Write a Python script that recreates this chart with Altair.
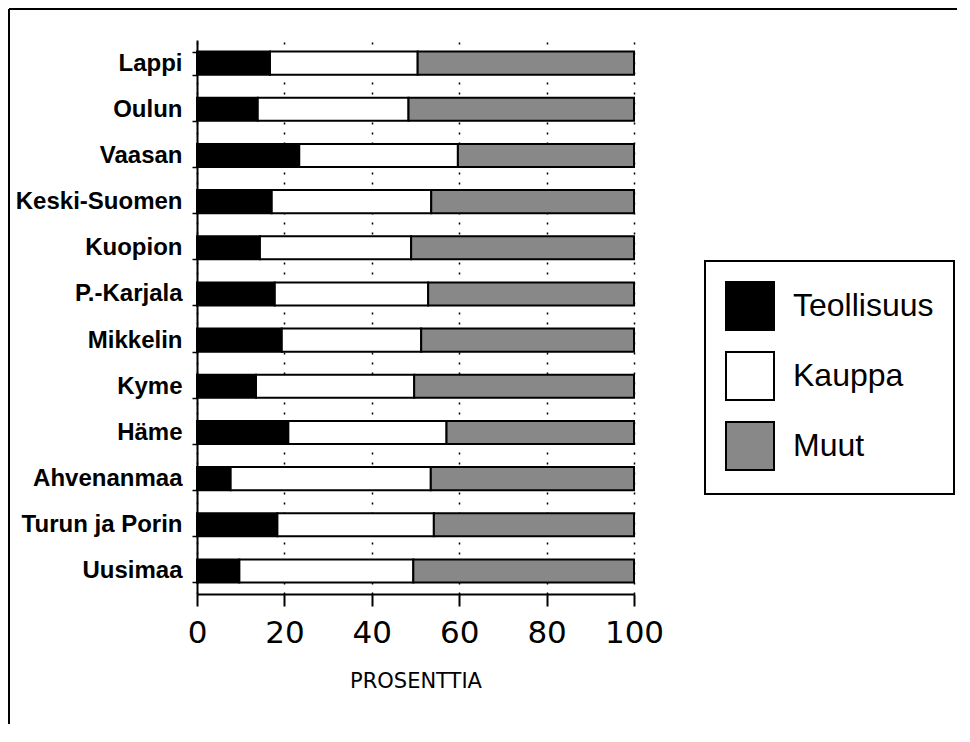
import altair as alt
import pandas as pd

categories = ["Lappi", "Oulun", "Vaasan", "Keski-Suomen", "Kuopion", "P.-Karjala",
              "Mikkelin", "Kyme", "Häme", "Ahvenanmaa", "Turun ja Porin", "Uusimaa"]
teollisuus = [16.7, 13.9, 23.4, 17.1, 14.4, 17.8, 19.4, 13.5, 20.9, 7.7, 18.4, 9.7]
kauppa = [33.8, 34.5, 36.3, 36.5, 34.6, 35.1, 31.9, 36.2, 36.2, 45.8, 35.8, 39.8]
muut = [49.5, 51.6, 40.3, 46.4, 51.0, 47.1, 48.7, 50.3, 42.9, 46.5, 45.8, 50.5]
sectors = ["Teollisuus", "Kauppa", "Muut"]
sector_colors = ["#000000", "#ffffff", "#888888"]
x_ticks = [0, 20, 40, 60, 80, 100]

rows = []
for i, c in enumerate(categories):
    for j, (s, vals) in enumerate(zip(sectors, [teollisuus, kauppa, muut])):
        rows.append({"alue": c, "sektori": s, "osuus": vals[i], "jarjestys": j})
df = pd.DataFrame(rows)

bars = alt.Chart(df).mark_bar(stroke="black", strokeWidth=2).encode(
    x=alt.X("osuus:Q", stack="zero",
            scale=alt.Scale(domain=[0, 100], nice=False),
            axis=alt.Axis(values=x_ticks, title="PROSENTTIA",
                          domainColor="black", domainWidth=2,
                          tickColor="black", tickWidth=2, tickSize=12,
                          labelFont="DejaVu Sans", labelFontSize=31, labelColor="black",
                          labelPadding=12, labelFlush=False,
                          grid=True, gridColor="black", gridDash=[2, 8], gridWidth=1.5,
                          gridOpacity=1,
                          titleFont="DejaVu Sans", titleFontSize=21, titleFontWeight="normal",
                          titleColor="black", titlePadding=22)),
    y=alt.Y("alue:N", sort=categories,
            scale=alt.Scale(paddingInner=0.5, paddingOuter=0.25),
            axis=alt.Axis(title=None, domainColor="black", domainWidth=2,
                          ticks=True, tickBand="extent", tickSize=5, tickWidth=1.5,
                          tickColor="black",
                          labelFont="Liberation Sans", labelFontWeight="bold",
                          labelFontSize=24, labelPadding=10, labelColor="black",
                          grid=False)),
    color=alt.Color("sektori:N",
                    scale=alt.Scale(domain=sectors, range=sector_colors),
                    legend=alt.Legend(orient="none", legendX=508, legendY=221,
                                      title=None, symbolType="square", symbolSize=2304,
                                      symbolStrokeColor="black", symbolStrokeWidth=2,
                                      symbolOpacity=1,
                                      labelFont="Liberation Sans", labelFontSize=32,
                                      labelColor="black", labelOffset=18,
                                      rowPadding=14, padding=20,
                                      strokeColor="black", fillColor="white")),
    order=alt.Order("jarjestys:Q"),
)

frame_df = pd.DataFrame({"k": [0]})
top_line = alt.Chart(frame_df).mark_rule(color="black", strokeWidth=2).encode(
    x=alt.value(-188), x2=alt.value(760), y=alt.value(-31))
left_line = alt.Chart(frame_df).mark_rule(color="black", strokeWidth=2).encode(
    x=alt.value(-188), y=alt.value(-31), y2=alt.value(684))

chart = alt.layer(bars, top_line, left_line).properties(
    width=437, height=554, padding=0, background="white"
).configure_view(strokeWidth=0).configure_legend(strokeWidth=2)

chart.save("out.html", embed_options={"renderer": "svg", "actions": False})
